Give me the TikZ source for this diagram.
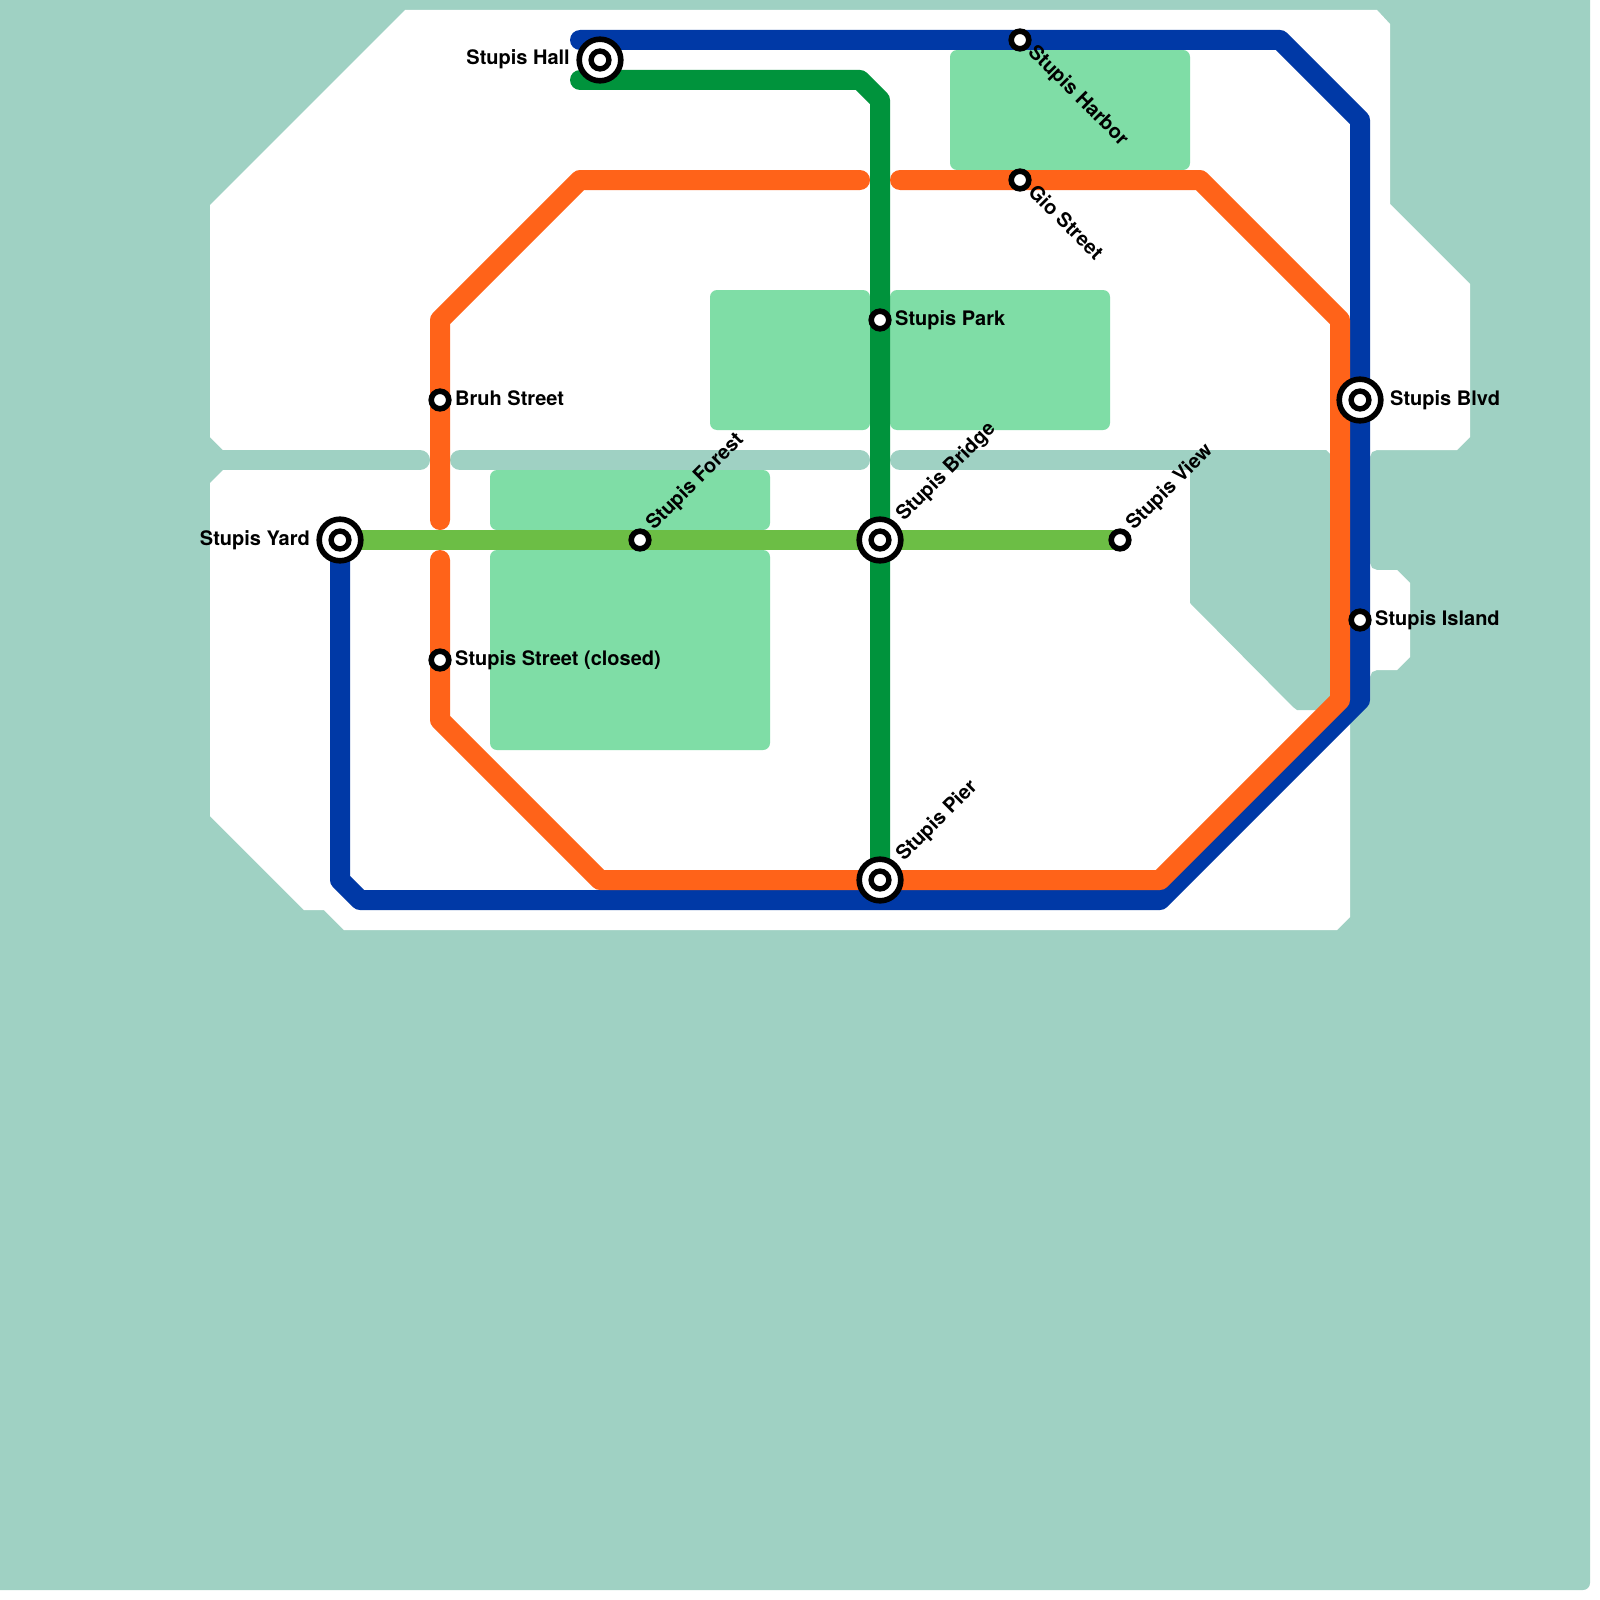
\documentclass[tikz,border=0pt]{standalone}
\usepackage{fontspec}
\setmainfont{TeX Gyre Heros}
\usepackage{xcolor}
\usepackage{tikz}
\usetikzlibrary{
  backgrounds,
  calc
}
\definecolor{metroblue}{RGB}{0,57,166}
\definecolor{metrogreen}{RGB}{0,147,60}
\definecolor{metroorange}{RGB}{255,99,25}
\definecolor{metrolime}{RGB}{108,190,69}
\definecolor{waterteal}{RGB}{159,209,195}
\definecolor{parkgreen}{RGB}{127,221,166}
\tikzset{
  smallstop/.style={circle,draw=black,line width=5.6pt,fill=white,
    minimum size=17.6pt,inner sep=0pt},
  bigstop/.style={circle,draw=black,line width=5.6pt,fill=white,
    minimum size=41.6pt,inner sep=0pt,
    path picture={\draw[line width=5.4pt]
      (path picture bounding box.center) circle (8.9pt);}},
  lab/.style={font=\fontsize{20}{24}\selectfont\bfseries,inner sep=0pt,
    anchor=base west},
  labend/.style={font=\fontsize{20}{24}\selectfont\bfseries,inner sep=0pt,
    anchor=base east},
  route/.style={line width=20pt,line cap=round,line join=round},
  channel/.style={line width=20pt,line cap=round,draw=waterteal},
  parkbox/.style={fill=parkgreen,rounded corners=7pt}
}

\begin{document}
\begin{tikzpicture}[x=1pt,y=-1pt]
  \useasboundingbox (0,0) rectangle (1600,1600);
  % stations
  \node[bigstop] (hall) at (600,60) {};
  \node[smallstop] (harbor) at (1020,40) {};
  \node[smallstop] (gio) at (1020,180) {};
  \node[smallstop] (park) at (880,320) {};
  \node[smallstop] (bruh) at (440,400) {};
  \node[bigstop] (blvd) at (1360,400) {};
  \node[bigstop] (yard) at (340,540) {};
  \node[smallstop] (forest) at (640,540) {};
  \node[bigstop] (bridge) at (880,540) {};
  \node[smallstop] (view) at (1120,540) {};
  \node[smallstop] (island) at (1360,620) {};
  \node[smallstop] (closed) at (440,660) {};
  \node[bigstop] (pier) at (880,880) {};
  % station names
  \node[labend] (hallname) at ([shift={(-30,5)}]hall.center) {Stupis Hall};
  \node[labend] (yardname) at ([shift={(-30,5)}]yard.center) {Stupis Yard};
  \node[lab] (bruhname) at ([shift={(15,5)}]bruh.center) {Bruh Street};
  \node[lab] (parkname) at ([shift={(15,5)}]park.center) {Stupis Park};
  \node[lab] (closedname) at ([shift={(15,5)}]closed.center) {Stupis Street (closed)};
  \node[lab] (blvdname) at ([shift={(30,5)}]blvd.center) {Stupis Blvd};
  \node[lab] (islandname) at ([shift={(15,5)}]island.center) {Stupis Island};
  \node[lab,rotate=-45] (harborname) at ([shift={(7,13)}]harbor.center) {Stupis Harbor};
  \node[lab,rotate=-45] (gioname) at ([shift={(7,13)}]gio.center) {Gio Street};
  \node[lab,rotate=45] (forestname) at ([shift={(14,-9)}]forest.center) {Stupis Forest};
  \node[lab,rotate=45] (bridgename) at ([shift={(24,-18)}]bridge.center) {Stupis Bridge};
  \node[lab,rotate=45] (viewname) at ([shift={(14,-9)}]view.center) {Stupis View};
  \node[lab,rotate=45] (piername) at ([shift={(24,-18)}]pier.center) {Stupis Pier};
  % bends
  \coordinate (bluestart) at (580,40);
  \coordinate (bluea) at (1280,40);
  \coordinate (blueb) at (1360,120);
  \coordinate (bluec) at (1360,700);
  \coordinate (blued) at (1160,900);
  \coordinate (bluee) at (360,900);
  \coordinate (bluef) at (340,880);
  \coordinate (greenstart) at (580,80);
  \coordinate (greena) at (860,80);
  \coordinate (greenb) at (880,100);
  \coordinate (orangestart) at (440,520);
  \coordinate (orangea) at (440,320);
  \coordinate (orangeb) at (580,180);
  \coordinate (orangec) at (860,180);
  \coordinate (oranged) at (900,180);
  \coordinate (orangee) at (1200,180);
  \coordinate (orangef) at (1340,320);
  \coordinate (orangeg) at (1340,700);
  \coordinate (orangeh) at (1160,880);
  \coordinate (orangei) at (600,880);
  \coordinate (orangej) at (440,720);
  \coordinate (orangek) at (440,560);
  \begin{scope}[on background layer]
    % water and land
    \fill[waterteal,rounded corners=7pt] (-20,-20) rectangle (1590,1590);
    \fill[white] (405,10) -- (1377,10) -- (1390,24) -- (1390,204) -- (1470,284)
      -- (1470,437) -- (1457,450) -- (1377,450) -- (1372,452) -- (1370,457) -- (1370,563)
      -- (1372,568) -- (1377,570) -- (1397,570) -- (1410,583) -- (1410,657) -- (1397,670)
      -- (1377,670) -- (1372,672) -- (1370,677) -- (1370,700) -- (1350,720) -- (1350,917)
      -- (1337,930) -- (344,930) -- (324,910) -- (304,910) -- (210,816)
      -- (210,483) -- (223,470) -- (223,450) -- (210,437) -- (210,205) -- cycle;
    \draw[channel] (220,460) -- (420,460);
    \draw[channel] (460,460) -- (860,460);
    \draw[channel] (900,460) -- (1320,460);
    \fill[waterteal] (1190,460) -- (1190,450) -- (1326,450) -- (1330,454)
      -- (1340,454) -- (1340,710) -- (1297,710) -- (1293,707) -- (1190,603) -- cycle;
    % parks
    \fill[parkbox] (950,50) rectangle (1190,170);
    \fill[parkbox] (710,290) rectangle (870,430);
    \fill[parkbox] (890,290) rectangle (1110,430);
    \fill[parkbox] (490,470) rectangle (770,530);
    \fill[parkbox] (490,550) rectangle (770,750);
    % routes
    \draw[route,metroblue] (bluestart) -- (harbor.center) -- (bluea) -- (blueb)
      -- (blvd.center) -- (island.center) -- (bluec) -- (blued) -- (bluee)
      -- (bluef) -- (yard.center);
    \draw[route,metrogreen] (greenstart) -- (greena) -- (greenb) -- (park.center)
      -- (bridge.center) -- (pier.center);
    \draw[route,metroorange] (orangestart) -- (bruh.center) -- (orangea)
      -- (orangeb) -- (orangec);
    \draw[route,metroorange] (oranged) -- (gio.center) -- (orangee) -- (orangef)
      -- (orangeg) -- (orangeh) -- (pier.center) -- (orangei) -- (orangej)
      -- (closed.center) -- (orangek);
    \draw[route,metrolime] (yard.center) -- (forest.center) -- (bridge.center)
      -- (view.center);
  \end{scope}
\end{tikzpicture}
\end{document}
